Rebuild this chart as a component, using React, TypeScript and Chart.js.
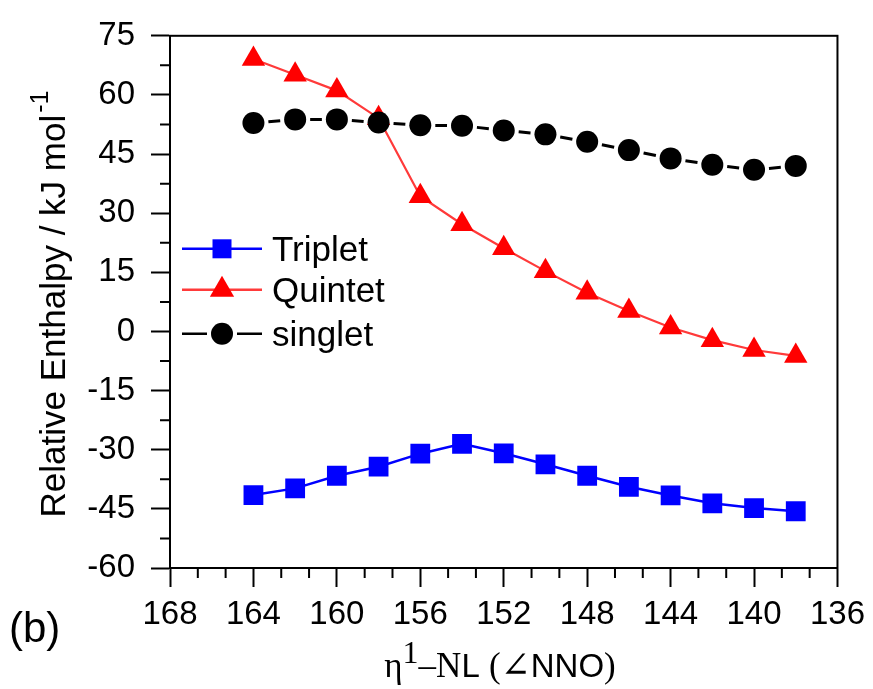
import { useEffect, useRef } from 'react';
import { Chart, registerables } from 'chart.js';

Chart.register(...registerables);

// ---- data ----
const angles = [164, 162, 160, 158, 156, 154, 152, 150, 148, 146, 144, 142, 140, 138];
const triplet = [-41.5, -39.8, -36.6, -34.3, -31.0, -28.5, -30.9, -33.7, -36.6, -39.4, -41.6, -43.6, -44.8, -45.6];
const quintet = [69.1, 65.1, 61.1, 54.1, 34.3, 27.2, 21.1, 15.3, 9.8, 5.2, 1.0, -2.2, -4.7, -6.2];
const singlet = [52.9, 53.8, 53.8, 53.0, 52.3, 52.2, 51.0, 50.0, 48.1, 46.0, 43.9, 42.3, 41.0, 42.0];

const seriesNames = ['Triplet', 'Quintet', 'singlet'];

const xMin = 136;
const xMax = 168;
const xStep = 4;
const xMinorPerMajor = 3;
const yMin = -60;
const yMax = 75;
const yStep = 15;
const yMinorPerMajor = 2;

const yTitleMain = 'Relative Enthalpy / kJ mol';
const yTitleSup = '-1';
const panelLabel = '(b)';

const SANS = '"Liberation Sans", Arial, sans-serif';
const SERIF = '"Liberation Serif", "Times New Roman", serif';
const ANGLE_FONT = '"DejaVu Serif", serif';

const BLUE = '#0000ff';
const RED = '#ff0000';
const RED_LINE = '#ff3a3a';
const BLACK = '#000000';

const xTitleParts: { t: string; font: string; size: number; rise: number }[] = [
  { t: 'η', font: SERIF, size: 35, rise: 0 },
  { t: '1', font: SERIF, size: 32, rise: 14 },
  { t: '–N', font: SERIF, size: 35, rise: 0 },
  { t: 'L ', font: SANS, size: 33, rise: 0 },
  { t: '(', font: SERIF, size: 35, rise: 0 },
  { t: '∠', font: ANGLE_FONT, size: 36, rise: 0 },
  { t: 'NNO', font: SANS, size: 33, rise: 0 },
  { t: ')', font: SERIF, size: 35, rise: 0 },
];

const legendItems = [
  { label: seriesNames[0], line: BLUE, fill: BLUE, shape: 'rect', gap: 0 },
  { label: seriesNames[1], line: RED_LINE, fill: RED, shape: 'triangle', gap: 0 },
  { label: seriesNames[2], line: BLACK, fill: BLACK, shape: 'circle', gap: 4 },
];

function drawShape(ctx: CanvasRenderingContext2D, shape: string, x: number, y: number, color: string) {
  ctx.fillStyle = color;
  ctx.beginPath();
  if (shape === 'rect') {
    ctx.rect(x - 9.5, y - 9.5, 19, 19);
  } else if (shape === 'triangle') {
    const r = 14;
    ctx.moveTo(x, y - r);
    ctx.lineTo(x + r * Math.sin((2 * Math.PI) / 3), y - r * Math.cos((2 * Math.PI) / 3));
    ctx.lineTo(x + r * Math.sin((4 * Math.PI) / 3), y - r * Math.cos((4 * Math.PI) / 3));
    ctx.closePath();
  } else {
    ctx.arc(x, y, 11, 0, Math.PI * 2);
  }
  ctx.fill();
}

const decorPlugin = {
  id: 'decor',
  afterDraw(chart: any) {
    const { ctx, chartArea: a, scales } = chart;
    const xs = scales.x;
    const ys = scales.y;
    ctx.save();

    // frame
    ctx.strokeStyle = BLACK;
    ctx.lineWidth = 2;
    ctx.strokeRect(a.left, a.top, a.right - a.left, a.bottom - a.top);

    // minor ticks
    ctx.beginPath();
    const yMinorStep = yStep / yMinorPerMajor;
    const nY = Math.round((yMax - yMin) / yMinorStep);
    for (let i = 0; i <= nY; i++) {
      if (i % yMinorPerMajor === 0) continue;
      const py = ys.getPixelForValue(yMin + i * yMinorStep);
      ctx.moveTo(a.left, py);
      ctx.lineTo(a.left - 10, py);
    }
    const xMinorStep = xStep / xMinorPerMajor;
    const nX = Math.round((xMax - xMin) / xMinorStep);
    for (let i = 0; i <= nX; i++) {
      if (i % xMinorPerMajor === 0) continue;
      const px = xs.getPixelForValue(xMin + i * xMinorStep);
      ctx.moveTo(px, a.bottom);
      ctx.lineTo(px, a.bottom + 10);
    }
    ctx.stroke();

    // legend
    const lx0 = a.left + 12;
    const lineLen = 80;
    const rows = [a.top + 213, a.top + 254, a.top + 298];
    legendItems.forEach((it, i) => {
      const y = rows[i];
      const cx = lx0 + lineLen / 2;
      ctx.strokeStyle = it.line;
      ctx.lineWidth = 2.5;
      ctx.beginPath();
      if (it.gap > 0) {
        ctx.moveTo(lx0, y);
        ctx.lineTo(cx - 11 - it.gap, y);
        ctx.moveTo(cx + 11 + it.gap, y);
        ctx.lineTo(lx0 + lineLen, y);
      } else {
        ctx.moveTo(lx0, y);
        ctx.lineTo(lx0 + lineLen, y);
      }
      ctx.stroke();
      drawShape(ctx, it.shape, cx, y, it.fill);
      ctx.fillStyle = BLACK;
      ctx.font = `35px ${SANS}`;
      ctx.textAlign = 'left';
      ctx.textBaseline = 'alphabetic';
      ctx.fillText(it.label, lx0 + lineLen + 10, y + 12);
    });

    // y title
    ctx.fillStyle = BLACK;
    ctx.textAlign = 'left';
    ctx.textBaseline = 'alphabetic';
    ctx.font = `35px ${SANS}`;
    const wMain = ctx.measureText(yTitleMain).width;
    ctx.font = `25px ${SANS}`;
    const wSup = ctx.measureText(yTitleSup).width;
    const total = wMain + wSup + 2;
    const centerY = 304;
    ctx.translate(65, centerY + total / 2);
    ctx.rotate(-Math.PI / 2);
    ctx.font = `35px ${SANS}`;
    ctx.fillText(yTitleMain, 0, 0);
    ctx.font = `25px ${SANS}`;
    ctx.fillText(yTitleSup, wMain + 2, -17);
    ctx.setTransform(1, 0, 0, 1, 0, 0);

    // x title
    let wx = 0;
    xTitleParts.forEach((p) => {
      ctx.font = `${p.size}px ${p.font}`;
      wx += ctx.measureText(p.t).width;
    });
    let cxp = 500 - wx / 2;
    const base = 677;
    xTitleParts.forEach((p) => {
      ctx.font = `${p.size}px ${p.font}`;
      ctx.fillText(p.t, cxp, base - p.rise);
      cxp += ctx.measureText(p.t).width;
    });

    // panel label
    ctx.font = `42px ${SANS}`;
    ctx.fillText(panelLabel, 9, 642);

    ctx.restore();
  },
};

export default function App() {
  const ref = useRef<HTMLCanvasElement | null>(null);

  useEffect(() => {
    document.body.style.margin = '0';
    const canvas = ref.current;
    if (!canvas) return;
    const pts = (vals: number[]) => angles.map((x, i) => ({ x, y: vals[i] }));
    const chart = new Chart(canvas, {
      type: 'line',
      data: {
        datasets: [
          {
            label: seriesNames[0],
            data: pts(triplet),
            borderColor: BLUE,
            backgroundColor: BLUE,
            borderWidth: 2.5,
            pointStyle: 'rect',
            pointRadius: 14,
            pointHoverRadius: 14,
            pointBorderWidth: 0,
            pointBackgroundColor: BLUE,
            order: 2,
          },
          {
            label: seriesNames[1],
            data: pts(quintet),
            borderColor: RED_LINE,
            backgroundColor: RED,
            borderWidth: 2.2,
            pointStyle: 'triangle',
            pointRadius: 13.5,
            pointHoverRadius: 13.5,
            pointBorderWidth: 0,
            pointBackgroundColor: RED,
            order: 1,
          },
          {
            label: seriesNames[2],
            data: pts(singlet),
            borderColor: BLACK,
            backgroundColor: BLACK,
            borderWidth: 3,
            pointStyle: 'circle',
            pointRadius: 11,
            pointHoverRadius: 11,
            pointBorderWidth: 0,
            pointBackgroundColor: BLACK,
            order: 0,
            segment: {
              borderDash: (c: any) => {
                const L = Math.hypot(c.p1.x - c.p0.x, c.p1.y - c.p0.y);
                const dash = Math.max(L - 2 * 15, 0);
                const g = (L - dash) / 2;
                return [0, g, dash, 1000 + c.p0DataIndex];
              },
            },
          },
        ] as any,
      },
      options: {
        animation: false,
        responsive: false,
        devicePixelRatio: 1,
        events: [],
        layout: { padding: { top: 29, right: 34, left: 0, bottom: 0 } },
        plugins: {
          legend: { display: false },
          tooltip: { enabled: false },
          title: { display: false },
        },
        scales: {
          x: {
            type: 'linear',
            min: xMin,
            max: xMax,
            reverse: true,
            afterFit: (s: any) => {
              s.height = 121;
            },
            grid: {
              drawOnChartArea: false,
              drawTicks: true,
              tickLength: 19,
              tickWidth: 2,
              tickColor: BLACK,
            },
            border: { display: true, color: BLACK, width: 2 },
            ticks: {
              stepSize: xStep,
              autoSkip: false,
              maxRotation: 0,
              color: BLACK,
              padding: 8,
              font: { family: SANS, size: 33 },
            },
          },
          y: {
            type: 'linear',
            min: yMin,
            max: yMax,
            afterFit: (s: any) => {
              s.width = 170;
            },
            grid: {
              drawOnChartArea: false,
              drawTicks: true,
              tickLength: 19,
              tickWidth: 2,
              tickColor: BLACK,
            },
            border: { display: true, color: BLACK, width: 2 },
            ticks: {
              stepSize: yStep,
              autoSkip: false,
              color: BLACK,
              padding: 16,
              font: { family: SANS, size: 33 },
            },
          },
        },
      },
      plugins: [decorPlugin],
    });
    return () => chart.destroy();
  }, []);

  return (
    <div style={{ width: 873, height: 689 }}>
      <canvas ref={ref} width={873} height={689} style={{ display: 'block' }} />
    </div>
  );
}
